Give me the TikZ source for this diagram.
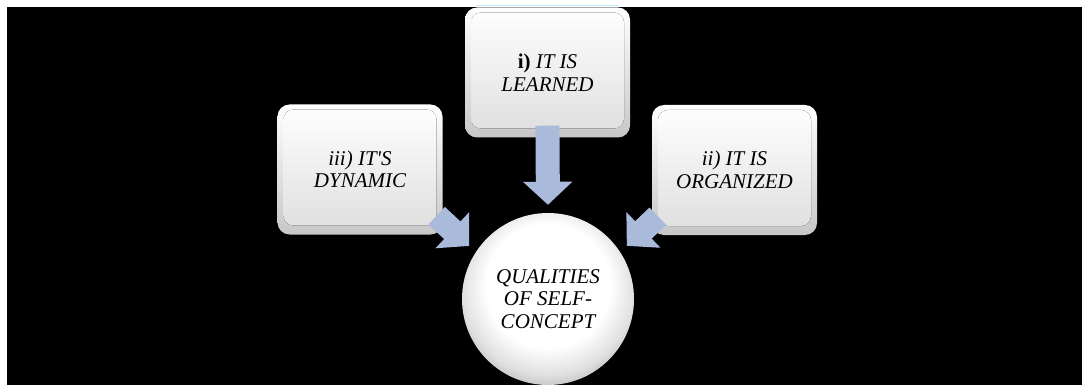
\documentclass[tikz,border=0pt]{standalone}
\usepackage{fontspec}
\setmainfont{Liberation Serif}[Ligatures=TeXOff]
\usetikzlibrary{arrows.meta}
\definecolor{arrowblue}{HTML}{A9BADB}
\pgfdeclareradialshading{sphere}{\pgfpoint{0bp}{6bp}}{color(0bp)=(white); color(18bp)=(white); color(25bp)=(black!12); color(31bp)=(black!32); color(50bp)=(black!32)}
\newcommand\qualfont{\fontsize{21}{22.5}\selectfont\itshape}
\tikzset{
  qualbox/.style={rectangle, rounded corners=12pt, minimum width=165pt, minimum height=130pt,
    top color=white, bottom color=black!22, align=center, font=\qualfont, inner sep=0pt,
    path picture={\fill[top color=white, bottom color=black!13, rounded corners=10pt]
      ([shift={(6,5)}]path picture bounding box.north west) rectangle
      ([shift={(-6,-9)}]path picture bounding box.south east);}},
  qualball/.style={circle, minimum size=172pt, inner sep=0pt, shading=sphere, align=center, font=\qualfont},
  bigarrow/.style={draw=arrowblue, line width=24pt, -{Triangle[width=48pt,length=23pt]}}
}
\begin{document}
\begin{tikzpicture}[x=1pt,y=-1pt]
\useasboundingbox[fill=white] (0,0) rectangle (1082,385);
\fill[black] (7,7) rectangle (1082,385);
\draw[cyan!25, line width=1pt] (477,6) -- (618,6);
% the three qualities
\node[qualbox] (learned) at (547.5,72.5) {\textup{\textbf{i)}} IT IS\\LEARNED};
\node[qualbox] (dynamic) at (360,169.5) {iii) IT'S\\DYNAMIC};
\node[qualbox] (organized) at (734.5,170) {ii) IT IS\\ORGANIZED};
\node[qualball] (qualities) at (548,299) {QUALITIES\\OF SELF-\\CONCEPT};
% arrows into the centre
\draw[bigarrow, shorten <=-12pt, shorten >=8pt] (learned.south) -- (qualities.north);
\draw[bigarrow, shorten >=9pt] ([shift={(-6,-19)}]dynamic.south east) -- (qualities.147);
\draw[bigarrow, shorten >=9pt] ([shift={(6,-19)}]organized.south west) -- (qualities.33);
\end{tikzpicture}
\end{document}
